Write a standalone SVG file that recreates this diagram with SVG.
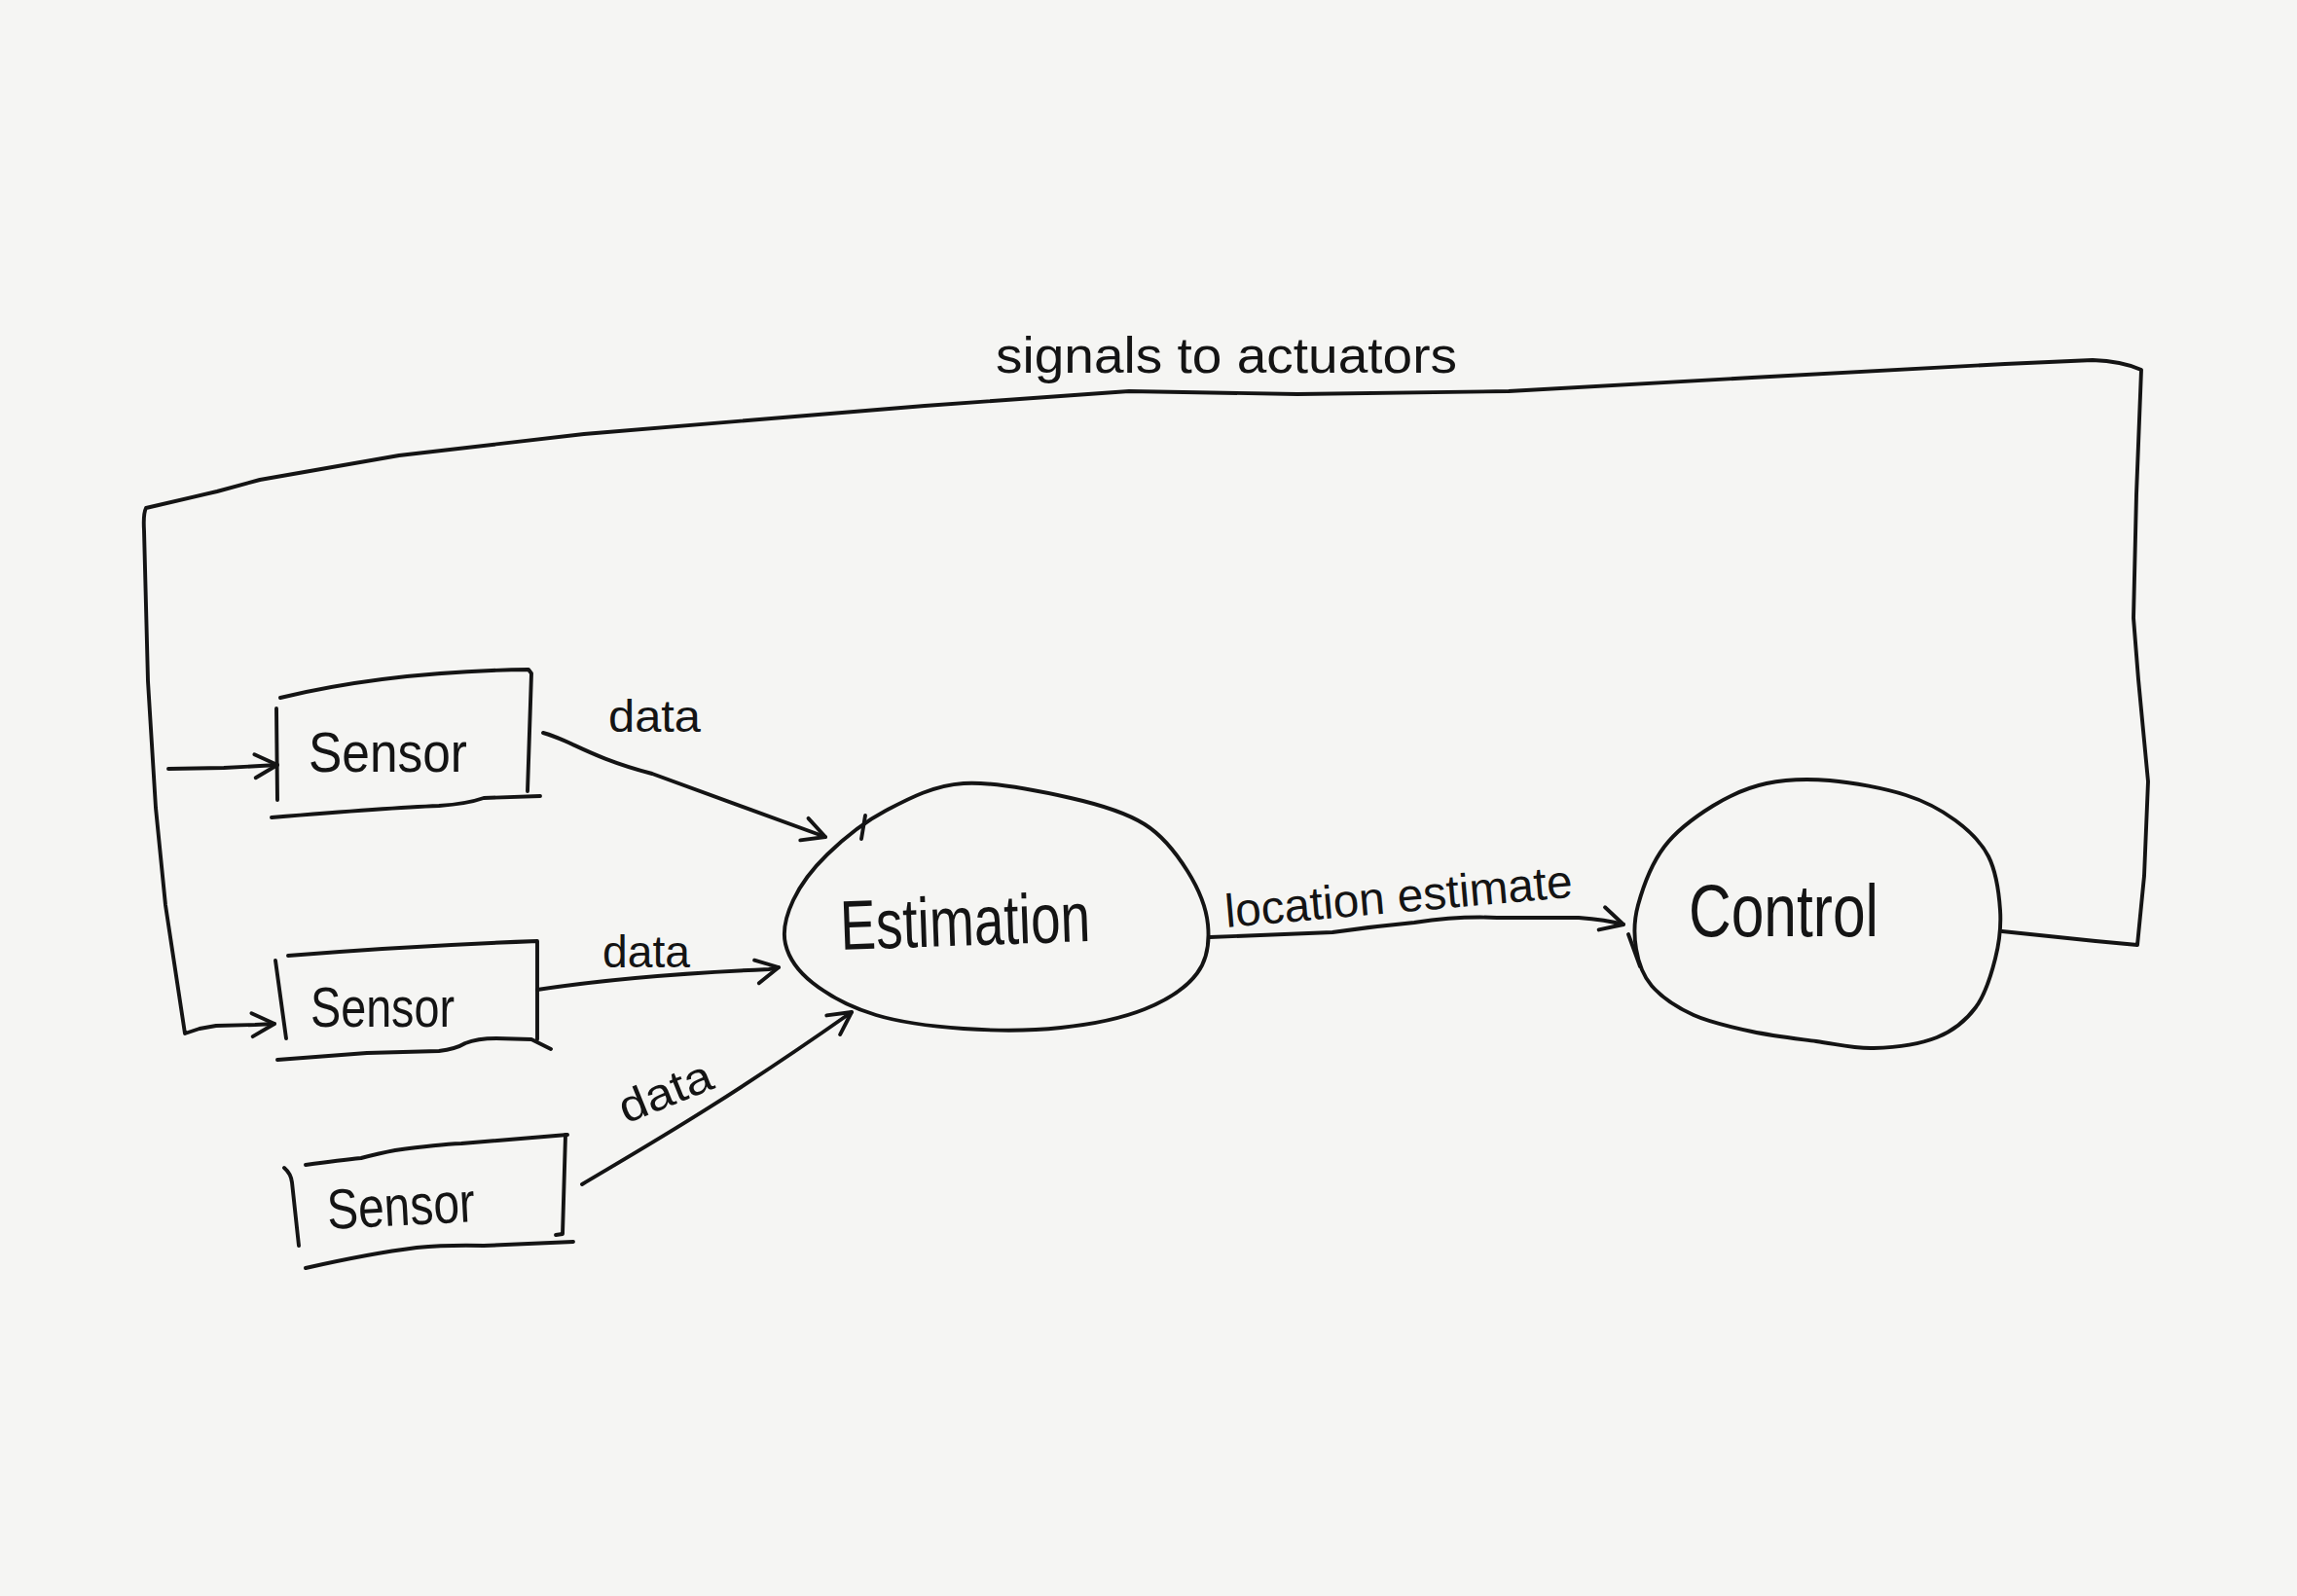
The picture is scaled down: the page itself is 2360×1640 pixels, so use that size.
<svg xmlns="http://www.w3.org/2000/svg" width="2360" height="1640" viewBox="0 0 2360 1640">
<style>
.ln{fill:none;stroke:#141414;stroke-width:3.9;stroke-linecap:round;stroke-linejoin:round}
.tx{font-family:"Liberation Sans","DejaVu Sans",sans-serif;fill:#141414}
.lbl{font-size:46px}
.sen{font-size:58px}
</style>
<defs>
<marker id="chev" viewBox="0 0 30 30" refX="27" refY="15" markerWidth="30" markerHeight="30" markerUnits="userSpaceOnUse" orient="auto">
<path d="M4,3 L27,15 L4,27" fill="none" stroke="#141414" stroke-width="3.9" stroke-linecap="round" stroke-linejoin="round"/>
</marker>
</defs>
<rect x="0" y="0" width="2360" height="1640" fill="#f5f5f3"/>

<g id="sensor1">
<path class="ln" d="M288,717 Q400,690 543,688 L546,692 L542,813"/>
<path class="ln" d="M279,840 Q400,830 451,828 Q480,826 497,820 L555,818"/>
<path class="ln" d="M284,728 L285,822"/>
<text class="tx sen" x="317" y="793" textLength="163" lengthAdjust="spacingAndGlyphs">Sensor</text>
</g>

<g id="sensor2">
<path class="ln" d="M296,982 Q420,972 552,967 L552,1068"/>
<path class="ln" d="M285,1089 L377,1082 L451,1080 Q468,1078 478,1072 Q490,1067 510,1067 L546,1068 L566,1078"/>
<path class="ln" d="M283,987 L294,1067"/>
<text class="tx sen" x="319" y="1055" textLength="148" lengthAdjust="spacingAndGlyphs">Sensor</text>
</g>

<g id="sensor3">
<path class="ln" d="M314,1197 Q350,1192 371,1190 Q390,1185 406,1182 Q450,1176 474,1175 L583,1166"/>
<path class="ln" d="M581,1166 L578,1268 L571,1269"/>
<path class="ln" d="M314,1303 Q380,1288 428,1282 Q460,1279 497,1280 L589,1276"/>
<path class="ln" d="M292,1200 Q299,1206 300,1215 L307,1280"/>
<text class="tx sen" x="337" y="1263" textLength="152" lengthAdjust="spacingAndGlyphs" transform="rotate(-3 337 1263)">Sensor</text>
</g>

<g id="estimation">
<path class="ln" d="M990,805 C1021.7,802.8 1069,813 1100,820 S1156,834.5 1176,847 S1209.2,877.8 1220,895 S1239.3,932.5 1241,950 S1240.8,985.5 1230,1000 S1199.3,1027.7 1176,1037 S1121,1052.7 1090,1056 S1021.7,1059.2 990,1057 S925.8,1050.8 900,1043 S850.5,1022.2 835,1010 S810.3,984.2 807,970 S807.8,940.3 815,925 S834.2,893.3 850,878 S886.7,845.2 910,833 S958.3,807.2 990,805 Z"/>
<path class="ln" d="M889,838 L885,862"/>
<text class="tx" x="864" y="976" font-size="72" textLength="257" lengthAdjust="spacingAndGlyphs" transform="rotate(-2 864 976)">Estimation</text>
</g>

<g id="control">
<path class="ln" d="M1815,805 C1835,800.7 1856.2,800 1880,802 S1936.5,810.2 1958,817 S1994.8,832.5 2009,843 S2035.3,864.7 2043,880 S2053.8,917.5 2055,935 S2054.2,968.3 2050,985 S2040,1021.5 2030,1035 S2007.5,1059 1990,1066 S1945.7,1076.3 1925,1077 S1886.8,1072.8 1866,1070 S1821,1064.5 1800,1060 S1757.2,1050.8 1740,1043 S1706.8,1024.3 1697,1013 S1683.3,988.8 1681,975 S1678.2,947.5 1683,930 S1697.2,887 1710,870 S1742.5,838.8 1760,828 S1795,809.3 1815,805 Z"/>
<path class="ln" d="M1673,960 L1685,993"/>
<text class="tx" x="1735" y="962" font-size="76" textLength="195" lengthAdjust="spacingAndGlyphs">Control</text>
</g>

<g id="connectors">
<path class="ln" marker-end="url(#chev)" d="M2057,957 L2153,967 L2196,971 L2203,900 L2207,803 L2197,698 L2192,635 L2195,508 L2200,380 Q2180,371 2150,370 L2060,374 L1800,388 L1550,402 L1333,405 L1160,402 L950,417 L600,446 L410,468 L267,493 L223,505 L150,522 Q147,528 148,545 L152,700 L160,830 L170,930 L190,1062 L205,1057 L222,1054 L262,1053 L282,1052"/>
<path class="ln" marker-end="url(#chev)" d="M173,790 L230,789 L285,786"/>
<path class="ln" marker-end="url(#chev)" d="M558,753 C585,760 605,778 670,795 L848,860"/>
<path class="ln" marker-end="url(#chev)" d="M552,1017 Q650,1002 790,996 L800,994"/>
<path class="ln" marker-end="url(#chev)" d="M598,1217 C660,1180 740,1135 875,1040"/>
<path class="ln" marker-end="url(#chev)" d="M1243,963 L1369,958 Q1410,952 1453,948 Q1500,941 1538,943 L1622,943 Q1650,945 1668,950"/>
</g>

<g id="labels">
<text class="tx" x="1023" y="383" font-size="52" textLength="474" lengthAdjust="spacingAndGlyphs">signals to actuators</text>
<text class="tx lbl" x="625" y="752" textLength="95" lengthAdjust="spacingAndGlyphs">data</text>
<text class="tx lbl" x="619" y="994" textLength="90" lengthAdjust="spacingAndGlyphs">data</text>
<text class="tx lbl" x="643" y="1155" textLength="100" lengthAdjust="spacingAndGlyphs" transform="rotate(-22 643 1155)">data</text>
<text class="tx" x="1260" y="953" font-size="48" textLength="358" lengthAdjust="spacingAndGlyphs" transform="rotate(-5 1260 953)">location estimate</text>
</g>
</svg>
